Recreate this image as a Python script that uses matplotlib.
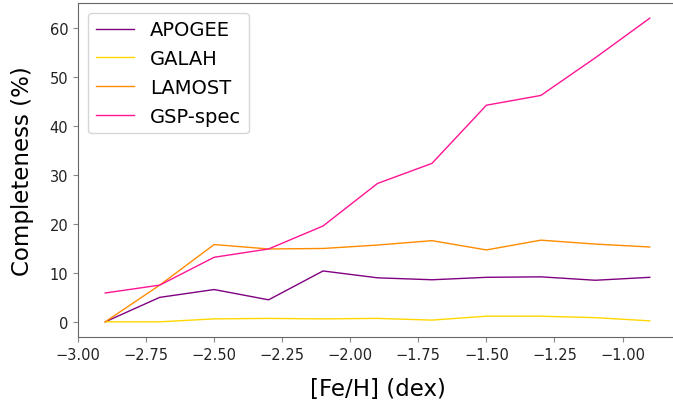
import matplotlib
matplotlib.use('Agg')
import matplotlib.pyplot as plt

# metallicity bins
feh = [-2.9, -2.7, -2.5, -2.3, -2.1, -1.9, -1.7, -1.5, -1.3, -1.1, -0.9]

# completeness per survey (%)
apogee = [0.0, 5.0, 6.6, 4.5, 10.4, 9.0, 8.6, 9.1, 9.2, 8.5, 9.1]
galah = [0.0, 0.0, 0.6, 0.7, 0.6, 0.7, 0.35, 1.15, 1.15, 0.85, 0.2]
lamost = [0.0, 7.5, 15.8, 14.9, 15.0, 15.7, 16.6, 14.7, 16.7, 15.9, 15.3]
gspspec = [5.9, 7.5, 13.2, 14.9, 19.6, 28.3, 32.4, 44.3, 46.3, 54.0, 62.1]

series = [('APOGEE', apogee, 'purple'),
          ('GALAH', galah, 'gold'),
          ('LAMOST', lamost, 'darkorange'),
          ('GSP-spec', gspspec, 'deeppink')]

W, H = 673, 410
fig = plt.figure(figsize=(W / 100, H / 100), dpi=100)
# axes runs slightly past the right edge, as in the cropped original
ax = fig.add_axes([78 / W, (H - 338) / H, 599 / W, 334 / H])

for name, vals, col in series:
    ax.plot(feh, vals, '-', color=col, lw=1.0, label=name)

ax.set_xlabel('[Fe/H] (dex)', fontsize=16.5)
ax.set_ylabel('Completeness (%)', fontsize=16.5)
ax.xaxis.set_label_coords(0.5, -0.12)
ax.yaxis.set_label_coords(-0.074, 0.5)
ax.tick_params(labelsize=10.5, colors='#222222')
ax.tick_params(color='#888888')
for s in ax.spines.values():
    s.set_color('#666666')
ax.spines['right'].set_visible(False)

ax.legend(loc='upper left', fontsize=14)

fig.savefig('out.png', dpi=100)
